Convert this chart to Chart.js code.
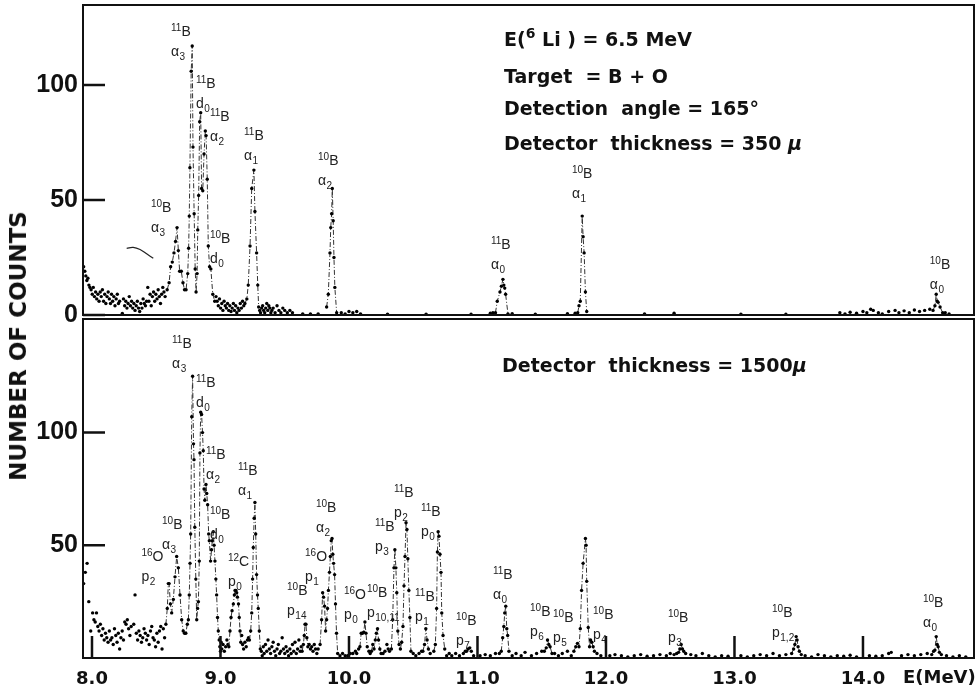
<!DOCTYPE html>
<html>
  <head>
    <title>6Li + B spectrum</title>
    <script src="https://cdn.jsdelivr.net/npm/chart.js@4.4.1/dist/chart.umd.min.js"></script>
    <style>
      body { margin: 0; background: #fff; }
      #wrap { position: relative; width: 980px; height: 691px; overflow: hidden; background: #fff; }
      canvas { position: absolute; left: 0; }
      #bottom { top: 315px; }
      #top { top: 0; }
      .note {
        position: absolute;
        font: bold 19px "DejaVu Sans";
        line-height: 19px;
        color: #111;
        white-space: pre;
      }
      .note sup { font-size: 14px; vertical-align: 8px; line-height: 0; }
      .ytitle {
        position: absolute;
        left: 18px;
        top: 346px;
        transform: translate(-50%, -50%) rotate(-90deg);
        font: bold 23px "DejaVu Sans";
        color: #111;
        white-space: nowrap;
      }
    </style>
  </head>

  <body>
    <div id="wrap">
      <canvas id="bottom" width="980" height="376"></canvas>
      <canvas id="top" width="980" height="345"></canvas>
      <div class="ytitle">NUMBER OF COUNTS</div>
      <div class="note" style="left:504px; top:30px">E(<sup>6</sup> Li ) = 6.5 MeV</div>
      <div class="note" style="left:504px; top:67px">Target  = B + O</div>
      <div class="note" style="left:504px; top:99px">Detection  angle = 165°</div>
      <div class="note" style="left:504px; top:134px">Detector  thickness = 350 <i>μ</i></div>
      <div class="note" style="left:502px; top:356px">Detector  thickness = 1500<i>μ</i></div>
    </div>

    <script>
      // axes
      const xMin = 7.93, xMax = 14.864;
      const xTicks = [8, 9, 10, 11, 12, 13, 14];
      const topTicks = [0, 50, 100];
      const bottomTicks = [50, 100];
      const topMax = 134.8, bottomMax = 150.4;

      // 350 micron detector (upper spectrum)
      const topBgE = [7.935, 7.944, 7.952, 7.96, 7.968, 7.976, 7.984, 7.993, 8.002, 8.01, 8.019, 8.028, 8.037, 8.046,
        8.055, 8.064, 8.072, 8.081, 8.09, 8.099, 8.108, 8.117, 8.126, 8.135, 8.144, 8.152, 8.161, 8.17, 8.179, 8.188,
        8.197, 8.206, 8.215, 8.236, 8.245, 8.254, 8.263, 8.272, 8.281, 8.29, 8.299, 8.308, 8.317, 8.326, 8.335, 8.344,
        8.353, 8.362, 8.371, 8.38, 8.389, 8.398, 8.407, 8.416, 8.425, 8.434, 8.443, 8.452, 8.461, 8.47, 8.479, 8.488,
        8.497, 8.506, 8.515, 8.524, 8.533, 8.542, 8.551, 8.56, 8.569,
        8.965, 8.974, 8.983, 8.992, 9.001, 9.01, 9.019, 9.028, 9.037, 9.046, 9.055, 9.064, 9.073, 9.082, 9.091, 9.1,
        9.109, 9.118, 9.127, 9.136, 9.145, 9.154, 9.163, 9.172, 9.181,
        9.305, 9.312, 9.32, 9.328, 9.336, 9.344, 9.352, 9.36, 9.368, 9.376, 9.384, 9.392, 9.4, 9.41, 9.425, 9.44, 9.455,
        9.47, 9.485, 9.5, 9.52, 9.54, 9.56, 9.64, 9.7, 9.76,
        9.94, 9.97, 10.0, 10.03, 10.06, 10.09, 10.3, 10.6, 10.95, 11.1, 11.12, 11.27, 11.45, 11.7, 11.76, 12.3, 12.53,
        13.05, 13.4, 13.82, 13.86, 13.9, 13.95, 14.0, 14.03, 14.06, 14.08, 14.12, 14.15, 14.2, 14.25, 14.28, 14.32,
        14.36, 14.4, 14.44, 14.48, 14.52, 14.64, 14.67];
      const topBgN = [21, 19, 17, 15, 16, 13, 12, 11, 9, 12, 8, 10, 7, 9,
        6, 10, 8, 11, 6, 9, 5, 8, 10, 7, 5, 9, 6, 8, 4, 7,
        9, 5, 6, 0.7, 7, 4, 6, 3, 5, 8, 4, 6, 3, 5, 2, 4,
        6, 3, 1.5, 5, 3, 7, 5, 4, 6, 12, 6, 9, 4, 8, 10, 6,
        9, 7, 11, 8, 5, 9, 12, 10, 8,
        8, 6, 4, 7, 3, 5, 2, 6, 4, 3, 5, 2, 4, 1.5, 3, 5,
        2, 4, 1, 3, 2, 5, 3, 6, 4,
        2, 1, 3, 4, 2, 1, 3, 5, 2, 4, 3, 1, 2, 3, 1, 4, 2,
        1, 3, 2, 1, 2, 1, 0.5, 0.5, 0.5,
        1, 0.5, 1.5, 1, 1.5, 0.5, 0.4, 0.4, 0.3, 0.8, 1, 0.6, 0.4, 0.6, 0.8, 0.5, 0.8,
        0.4, 0.3, 1, 0.5, 1.2, 0.8, 1.5, 1, 2.5, 2, 1, 0.5, 1.5, 2, 1, 1.8,
        1, 2.2, 1.5, 2, 2.5, 1, 0.5];

      const topPeakE = [8.585, 8.6, 8.612, 8.625, 8.638, 8.65, 8.662, 8.672, 8.682, 8.695, 8.708, 8.72, 8.732, 8.745,
        8.752, 8.757, 8.762, 8.772, 8.78, 8.786, 8.795, 8.803, 8.81, 8.818, 8.823, 8.83, 8.838, 8.846, 8.853, 8.862,
        8.872, 8.882, 8.888, 8.897, 8.905, 8.915, 8.925, 8.94, 8.955, 8.96,
        9.19, 9.205, 9.216, 9.23, 9.243, 9.26, 9.268, 9.281, 9.29, 9.297, 9.3,
        9.826, 9.839, 9.852, 9.858, 9.865, 9.87, 9.877, 9.883, 9.89, 9.904, 9.91,
        11.14, 11.154, 11.175, 11.186, 11.198, 11.205, 11.212, 11.219, 11.237, 11.24,
        11.78, 11.79, 11.8, 11.815, 11.822, 11.83, 11.84, 11.85, 11.86,
        14.545, 14.56, 14.57, 14.578, 14.585, 14.6, 14.62];
      const topPeakN = [11, 14, 21, 23, 27, 32, 38, 28, 19, 19, 14, 11, 11, 18,
        29, 43, 64, 106, 117, 73, 44, 20, 10, 18, 37, 52, 84, 88, 55, 54,
        70, 80, 78, 59, 30, 21, 20, 9, 6, null,
        5, 7, 13, 30, 55, 63, 45, 27, 13, 3.5, null,
        3.5, 9, 27, 38, 44, 55, 41, 25, 12, 1, null,
        1, 6, 10, 12.5, 15.5, 13, 11.7, 9, 0.5, null,
        1, 4, 6, 43, 34, 27, 10, 1.5, null,
        2, 4, 9, 6, 5.5, 3.5, 1];

      const arcE = [8.27, 8.32, 8.374, 8.428, 8.477];
      const arcN = [29, 29.4, 28.5, 26.5, 24.7];

      // 1500 micron detector (lower spectrum)
      const botBgE = [7.935, 7.948, 7.962, 7.975, 7.99, 8.005, 8.015, 8.025, 8.035, 8.045, 8.055, 8.065, 8.075, 8.085,
        8.095, 8.105, 8.115, 8.125, 8.135, 8.145, 8.155, 8.165, 8.175, 8.185, 8.195, 8.205, 8.215, 8.225, 8.235, 8.245,
        8.255, 8.265, 8.275, 8.285, 8.295, 8.305, 8.335, 8.325, 8.345, 8.355, 8.365, 8.375, 8.385, 8.395, 8.405, 8.415,
        8.425, 8.435, 8.445, 8.455, 8.465, 8.475, 8.485, 8.495, 8.505, 8.515, 8.525, 8.535, 8.545, 8.555, 8.565,
        8.995, 9.0, 9.005, 9.01, 9.02, 9.03, 9.04, 9.05, 9.058,
        9.165, 9.172, 9.18, 9.19, 9.2, 9.21, 9.218,
        9.318, 9.325, 9.333, 9.34, 9.35, 9.36, 9.37, 9.38, 9.39, 9.4, 9.41, 9.42, 9.43, 9.44, 9.45, 9.46, 9.47, 9.48,
        9.49, 9.5, 9.51, 9.52, 9.53, 9.54, 9.55, 9.56, 9.57, 9.58, 9.59, 9.6, 9.61, 9.62, 9.628,
        9.71, 9.72, 9.73, 9.74, 9.75, 9.76,
        9.93, 9.95, 9.97, 9.99, 10.01, 10.03, 10.05, 10.06, 10.075,
        10.155, 10.165, 10.265, 10.28, 10.295, 10.305, 10.315,
        10.5, 10.52, 10.545, 10.565, 10.76, 10.78, 10.8, 10.83, 10.86, 10.89, 10.905, 10.97,
        11.02, 11.06, 11.1, 11.14, 11.17, 11.27, 11.3, 11.34, 11.37, 11.42, 11.46, 11.5,
        11.6, 11.63, 11.66, 11.7, 11.73,
        11.93, 11.96, 12.03, 12.07, 12.12, 12.17, 12.22, 12.27, 12.32, 12.37, 12.42, 12.47, 12.5, 12.53, 12.55,
        12.66, 12.7, 12.75, 12.8, 12.85, 12.9, 12.95, 13.05, 13.1, 13.15, 13.2, 13.25, 13.3, 13.35, 13.4,
        13.55, 13.6, 13.65, 13.7, 13.75, 13.8, 13.85, 13.9, 13.95, 14.05, 14.1, 14.15, 14.2, 14.22, 14.3, 14.35, 14.4,
        14.45, 14.5, 14.65, 14.7, 14.75, 14.8];
      const botBgN = [33, 38, 42, 25, 12, 20, 17, 16, 20, 14, 12, 15, 10, 13,
        8, 11, 9, 7, 12, 8, 9, 6, 13, 10, 7, 11, 4, 9, 12, 8,
        16, 15, 17, 13, 10, 14, 28, 15, 11, 8, 12, 10, 7, 9, 13, 11,
        8, 10, 6, 12, 14, 9, 8, 5, 11, 7, 12, 14, 4, 13, 9,
        5, 3, 7, 4, 6, 3, 5, 8, 6,
        10, 6, 4, 7, 5, 8, 9,
        3, 1, 5, 2, 6, 3, 8, 4, 2, 5, 7, 3, 1, 4, 6, 2, 3, 9,
        4, 2, 5, 3, 1, 4, 2, 6, 3, 7, 2, 4, 8, 3, 5,
        5, 3, 6, 4, 2, 4,
        1, 2, 1, 1, 2, 2, 3, 2, 4,
        3, 2, 2, 3, 6, 4, 3,
        2, 1, 2, 3, 1, 2, 1, 2, 1, 2, 3, 1,
        1, 1.5, 1, 2, 2, 1, 2, 1, 2.5, 1, 2, 3,
        2, 1, 2, 3, 1,
        2, 1, 1, 1.5, 1, 0.5, 1, 1.5, 0.8, 1, 1.5, 1, 2, 1.5, 2,
        1.5, 1, 2, 1, 0.5, 1, 0.8, 1, 0.5, 1, 1.5, 1, 2, 1, 1.5,
        1, 0.5, 1.5, 1, 0.5, 1, 0.8, 1.2, 0.5, 1, 0.8, 1, 2, 2.5, 1, 1.5, 1,
        1.5, 2, 1, 0.5, 1, 0.5];

      const botPeakE = [8.575, 8.586, 8.594, 8.6, 8.61, 8.62, 8.633, 8.646, 8.659, 8.672, 8.685, 8.698, 8.71, 8.72,
        8.73, 8.742, 8.75, 8.757, 8.763, 8.768, 8.776, 8.783, 8.79, 8.794, 8.8, 8.808, 8.815, 8.822, 8.828, 8.835,
        8.84, 8.846, 8.853, 8.86, 8.866, 8.872, 8.878, 8.887, 8.893, 8.9, 8.908, 8.913, 8.923, 8.93, 8.936, 8.944,
        8.95, 8.957, 8.964, 8.97, 8.977, 8.983, 8.99, 8.99,
        9.065, 9.074, 9.082, 9.09, 9.1, 9.108, 9.113, 9.12, 9.126, 9.132, 9.14, 9.146, 9.152, 9.158, 9.16,
        9.225, 9.235, 9.243, 9.25, 9.255, 9.262, 9.268, 9.274, 9.281, 9.288, 9.294, 9.302, 9.31, 9.31,
        9.635, 9.645, 9.652, 9.658, 9.665, 9.672, 9.68, 9.69, 9.7, 9.7,
        9.775, 9.787, 9.795, 9.802, 9.81, 9.818, 9.826, 9.833, 9.84, 9.848, 9.855, 9.862, 9.868, 9.874, 9.88, 9.888,
        9.895, 9.903, 9.912, 9.912,
        10.085, 10.095, 10.105, 10.115, 10.124, 10.132, 10.142, 10.142,
        10.175, 10.185, 10.195, 10.205, 10.213, 10.222, 10.23, 10.24, 10.25, 10.25,
        10.33, 10.34, 10.35, 10.357, 10.365, 10.372, 10.38, 10.39, 10.4, 10.41, 10.42, 10.428, 10.436, 10.444,
        10.451, 10.458, 10.466, 10.474, 10.482, 10.482,
        10.575, 10.588, 10.598, 10.608, 10.618, 10.632, 10.632,
        10.66, 10.672, 10.682, 10.688, 10.694, 10.7, 10.708, 10.716, 10.722, 10.732, 10.745, 10.745,
        10.915, 10.927, 10.94, 10.952, 10.952,
        11.185, 11.196, 11.205, 11.212, 11.22, 11.228, 11.235, 11.245, 11.245,
        11.52, 11.535, 11.545, 11.555, 11.565, 11.58, 11.58,
        11.75, 11.765, 11.778, 11.79, 11.8, 11.81, 11.822, 11.84, 11.845, 11.85, 11.862, 11.872, 11.88, 11.89,
        11.9, 11.91, 11.91,
        12.565, 12.575, 12.585, 12.595, 12.605, 12.62, 12.62,
        13.445, 13.46, 13.47, 13.48, 13.487, 13.495, 13.505, 13.52, 13.52,
        14.535, 14.55, 14.56, 14.57, 14.578, 14.585, 14.595, 14.61];
      const botPeakN = [15, 22, 33, 33, 24, 20, 26, 36, 45, 40, 28, 17, 12, 11,
        11, 15, 17, 28, 42, 55, 107, 125, 95, 88, 58, 35, 17, 22, 25, 43,
        91, 109, 108, 100, 92, 75, 70, 77, 73, 68, 55, 52, 43, 48, 52, 56,
        50, 43, 35, 28, 18, 12, 8, null,
        5, 12, 18, 21, 24, 28, 30, 30, 29, 27, 24, 18, 12, 7, null,
        8, 12, 20, 35, 49, 62, 69, 55, 37, 28, 22, 12, 4, null,
        3, 6, 10, 15, 15, 9, 5, 6, 4, null,
        6, 17, 29, 27, 23, 12, 17, 22, 30, 38, 45, 52, 53, 46, 42, 37,
        24, 11, 2, null,
        5, 11, 11, 11.5, 16, 11, 5, null,
        3, 6, 4, 8, 11, 13, 8, 4, 2, null,
        4, 17, 40, 48, 40, 29, 12, 6, 4, 7, 14, 32, 45, 60,
        57, 44, 30, 18, 3, null,
        3, 6, 13, 8, 4, 2, null,
        3, 6, 22, 47, 56, 54, 46, 38, 20, 10, 4, null,
        3, 4, 4.5, 3, null,
        3, 9, 14, 20, 23, 13, 10, 3, null,
        3, 4.5, 8, 6, 5, 2, null,
        3, 5, 6.5, 5, 13, 30, 42, 53, 50, 34, 13.5, 5, 8, 7,
        5, 3, null,
        2.5, 4, 6, 4, 3, 2, null,
        2, 4, 6, 9.5, 8, 5, 3, 1.5, null,
        1.5, 3, 3.5, 9.5, 6, 5, 2.5, 1.5];

      // peak identifications: position of the particle line (energy, counts)
      const topLabels = [
        { e: 8.615, n: 112.6, iso: "11", el: "B", p: "α", s: "3" },
        { e: 8.459, n: 36, iso: "10", el: "B", p: "α", s: "3" },
        { e: 8.809, n: 90, iso: "11", el: "B", p: "d", s: "0" },
        { e: 8.918, n: 75.6, iso: "11", el: "B", p: "α", s: "2" },
        { e: 8.918, n: 22.6, iso: "10", el: "B", p: "d", s: "0" },
        { e: 9.183, n: 67.4, iso: "11", el: "B", p: "α", s: "1" },
        { e: 9.759, n: 56.5, iso: "10", el: "B", p: "α", s: "2" },
        { e: 11.105, n: 20, iso: "11", el: "B", p: "α", s: "0" },
        { e: 11.735, n: 51, iso: "10", el: "B", p: "α", s: "1" },
        { e: 14.52, n: 11.5, iso: "10", el: "B", p: "α", s: "0" },
      ];
      const bottomLabels = [
        { e: 8.623, n: 128.5, iso: "11", el: "B", p: "α", s: "3" },
        { e: 8.809, n: 111.4, iso: "11", el: "B", p: "d", s: "0" },
        { e: 8.887, n: 79.4, iso: "11", el: "B", p: "α", s: "2" },
        { e: 8.918, n: 53, iso: "10", el: "B", p: "d", s: "0" },
        { e: 8.545, n: 48.5, iso: "10", el: "B", p: "α", s: "3" },
        { e: 8.385, n: 34, iso: "16", el: "O", p: "p", s: "2" },
        { e: 9.058, n: 32, iso: "12", el: "C", p: "p", s: "0" },
        { e: 9.136, n: 72.4, iso: "11", el: "B", p: "α", s: "1" },
        { e: 9.743, n: 56, iso: "10", el: "B", p: "α", s: "2" },
        { e: 9.658, n: 34, iso: "16", el: "O", p: "p", s: "1" },
        { e: 9.518, n: 19, iso: "10", el: "B", p: "p", s: "14" },
        { e: 9.961, n: 17.5, iso: "16", el: "O", p: "p", s: "0" },
        { e: 10.14, n: 18, iso: "10", el: "B", p: "p", s: "10,11" },
        { e: 10.202, n: 47.4, iso: "11", el: "B", p: "p", s: "3" },
        { e: 10.35, n: 62.7, iso: "11", el: "B", p: "p", s: "2" },
        { e: 10.514, n: 16.2, iso: "11", el: "B", p: "p", s: "1" },
        { e: 10.56, n: 54, iso: "11", el: "B", p: "p", s: "0" },
        { e: 10.833, n: 5.7, iso: "10", el: "B", p: "p", s: "7" },
        { e: 11.12, n: 26.3, iso: "11", el: "B", p: "α", s: "0" },
        { e: 11.409, n: 9.6, iso: "10", el: "B", p: "p", s: "6" },
        { e: 11.588, n: 7, iso: "10", el: "B", p: "p", s: "5" },
        { e: 11.899, n: 8.3, iso: "10", el: "B", p: "p", s: "4" },
        { e: 12.482, n: 7, iso: "10", el: "B", p: "p", s: "3" },
        { e: 13.292, n: 9.2, iso: "10", el: "B", p: "p", s: "1,2" },
        { e: 14.467, n: 13.6, iso: "10", el: "B", p: "α", s: "0" },
      ];

      const pts = (E, N) => E.map((e, i) => ({ x: e, y: N[i] }));

      function framePlugin(withXTicks) {
        return {
          id: "frame",
          afterDraw(chart) {
            const { ctx, chartArea: a, scales } = chart;
            ctx.save();
            ctx.strokeStyle = "#111";
            ctx.lineWidth = 2;
            ctx.strokeRect(a.left, a.top, a.right - a.left, a.bottom - a.top);
            ctx.lineWidth = 2.5;
            ctx.beginPath();
            scales.y.ticks.forEach((t) => {
              const y = scales.y.getPixelForValue(t.value);
              ctx.moveTo(a.left, y);
              ctx.lineTo(a.left + 22, y);
            });
            if (withXTicks) {
              scales.x.ticks.forEach((t) => {
                const x = scales.x.getPixelForValue(t.value);
                ctx.moveTo(x, a.bottom);
                ctx.lineTo(x, a.bottom - 22);
              });
            }
            ctx.stroke();
            if (withXTicks) {
              ctx.fillStyle = "#111";
              ctx.font = 'bold 18px "DejaVu Sans"';
              ctx.textBaseline = "top";
              ctx.fillText("E(MeV)", scales.x.getPixelForValue(14) + 40, a.bottom + 11);
            }
            ctx.restore();
          },
        };
      }

      function labelPlugin(items) {
        return {
          id: "peakLabels",
          afterDatasetsDraw(chart) {
            const { ctx, scales } = chart;
            ctx.save();
            ctx.fillStyle = "#222";
            ctx.textBaseline = "alphabetic";
            items.forEach((l) => {
              const px = scales.x.getPixelForValue(l.e);
              const py = scales.y.getPixelForValue(l.n);
              ctx.font = '10px "Liberation Sans"';
              ctx.fillText(l.iso, px, py - 25);
              const w = ctx.measureText(l.iso).width;
              ctx.font = '14px "Liberation Sans"';
              ctx.fillText(l.el, px + w, py - 20);
              ctx.fillText(l.p, px, py);
              const w2 = ctx.measureText(l.p).width;
              ctx.font = '10px "Liberation Sans"';
              ctx.fillText(l.s, px + w2 + 0.5, py + 4);
            });
            ctx.restore();
          },
        };
      }

      function spectrum(bgE, bgN, pkE, pkN) {
        return [
          {
            data: pts(pkE, pkN),
            showLine: true,
            spanGaps: false,
            borderColor: "#333",
            borderWidth: 1,
            borderDash: [5, 2, 1, 2],
            pointRadius: 1.7,
            pointBackgroundColor: "#000",
            pointBorderWidth: 0,
          },
          {
            data: pts(bgE, bgN),
            showLine: false,
            pointRadius: 1.7,
            pointBackgroundColor: "#000",
            pointBorderWidth: 0,
          },
        ];
      }

      function yAxis(max, ticks) {
        return {
          type: "linear",
          min: 0,
          max: max,
          afterBuildTicks: (s) => { s.ticks = ticks.map((v) => ({ value: v })); },
          afterFit: (s) => { s.width = 83; s.paddingTop = 0; s.paddingBottom = 0; },
          grid: { display: false, drawTicks: false },
          border: { display: false },
          ticks: {
            padding: 5,
            color: "#111",
            font: { family: "Liberation Sans", size: 25, weight: "bold" },
            callback: (v) => v,
          },
        };
      }

      const common = {
        responsive: false,
        animation: false,
        plugins: { legend: { display: false }, tooltip: { enabled: false } },
      };

      // upper panel
      const topSets = spectrum(topBgE, topBgN, topPeakE, topPeakN);
      topSets.push({
        data: pts(arcE, arcN),
        showLine: true,
        tension: 0.4,
        borderColor: "#222",
        borderWidth: 1.2,
        pointRadius: 0,
      });
      new Chart(document.getElementById("top").getContext("2d"), {
        type: "scatter",
        data: { datasets: topSets },
        options: {
          ...common,
          layout: { padding: { top: 5, right: 6, bottom: 30, left: 0 } },
          scales: {
            x: { type: "linear", display: false, min: xMin, max: xMax },
            y: yAxis(topMax, topTicks),
          },
        },
        plugins: [framePlugin(false), labelPlugin(topLabels)],
      });

      // lower panel
      new Chart(document.getElementById("bottom").getContext("2d"), {
        type: "scatter",
        data: { datasets: spectrum(botBgE, botBgN, botPeakE, botPeakN) },
        options: {
          ...common,
          layout: { padding: { top: 0, right: 6, bottom: 0, left: 0 } },
          scales: {
            x: {
              type: "linear",
              min: xMin,
              max: xMax,
              afterBuildTicks: (s) => { s.ticks = xTicks.map((v) => ({ value: v })); },
              afterFit: (s) => { s.height = 33; s.paddingLeft = 0; s.paddingRight = 0; },
              grid: { display: false, drawTicks: false },
              border: { display: false },
              ticks: {
                padding: 11,
                autoSkip: false,
                maxRotation: 0,
                color: "#111",
                font: { family: "DejaVu Sans", size: 18, weight: "bold" },
                callback: (v) => v.toFixed(1),
              },
            },
            y: yAxis(bottomMax, bottomTicks),
          },
        },
        plugins: [framePlugin(true), labelPlugin(bottomLabels)],
      });
    </script>
  </body>
</html>
